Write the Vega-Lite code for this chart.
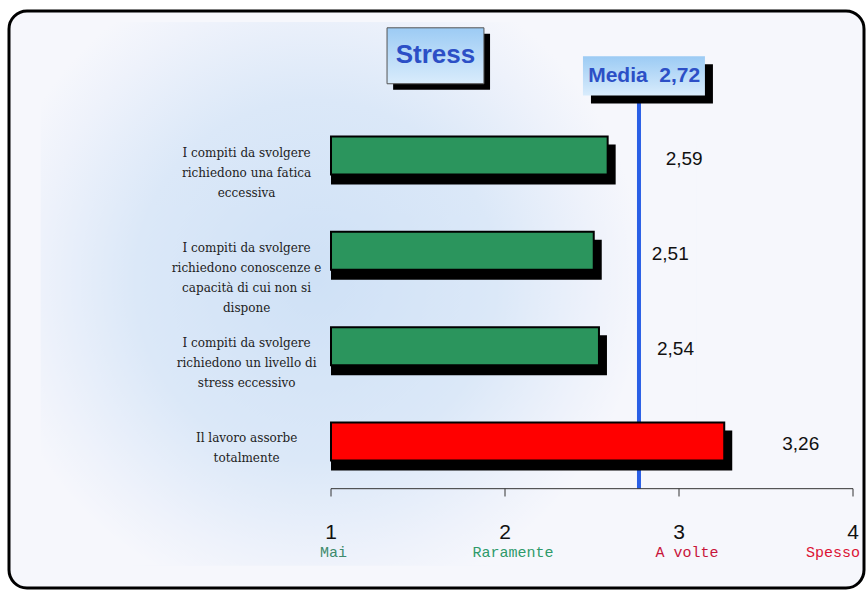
{
  "$schema": "https://vega.github.io/schema/vega-lite/v6.json",
  "width": 855,
  "height": 577,
  "autosize": {"type": "none"},
  "padding": {"left": 9, "top": 11, "right": 4, "bottom": 3},
  "background": "#ffffff",
  "config": {
    "view": {"stroke": "#000000", "strokeWidth": 3, "cornerRadius": 18, "fill": "#f6f7fc"},
    "axis": {"disable": true},
    "locale": {"number": {"decimal": ",", "thousands": ".", "grouping": [3], "currency": ["", " €"]}}
  },
  "datasets": {
    "items": [
      {"item": "I compiti da svolgere\nrichiedono una fatica\neccessiva", "row": 1, "value": 2.59, "tipo": "verde"},
      {"item": "I compiti da svolgere\nrichiedono conoscenze e\ncapacità di cui non si\ndispone", "row": 2, "value": 2.51, "tipo": "verde"},
      {"item": "I compiti da svolgere\nrichiedono un livello di\nstress eccessivo", "row": 3, "value": 2.54, "tipo": "verde"},
      {"item": "Il lavoro assorbe\ntotalmente", "row": 4, "value": 3.26, "tipo": "rosso"}
    ],
    "scale": [
      {"t": 1, "cat": "Mai"},
      {"t": 2, "cat": "Raramente"},
      {"t": 3, "cat": "A volte"},
      {"t": 4, "cat": "Spesso"}
    ],
    "one": [{}]
  },
  "layer": [
    {
      "data": {"name": "one"},
      "mark": {"type": "rect", "fill": {"gradient": "radial", "x1": 0.42, "y1": 0.48, "r1": 0, "x2": 0.42, "y2": 0.48, "r2": 0.5, "stops": [{"offset": 0, "color": "#cfe1f6"}, {"offset": 0.55, "color": "#dbe8f8"}, {"offset": 0.85, "color": "#eef2fb"}, {"offset": 1, "color": "#f6f7fc"}]}},
      "encoding": {
        "x": {"datum": -0.67, "type": "quantitative", "scale": {"domain": [-0.8506, 4.0632], "nice": false, "zero": false}, "axis": null},
        "x2": {"datum": 3.1},
        "y": {"datum": -0.4, "type": "quantitative", "scale": {"domain": [-0.4639, 5.4845], "nice": false, "zero": false, "reverse": true}, "axis": null},
        "y2": {"datum": 5.3}
      }
    },
    {
      "data": {"name": "one"},
      "mark": {"type": "rule", "color": "#2a5fe6", "strokeWidth": 4},
      "encoding": {
        "x": {"datum": 2.77},
        "y": {"datum": 0.371},
        "y2": {"datum": 4.495}
      }
    },
    {
      "data": {"name": "items"},
      "mark": {"type": "bar", "size": 40, "color": "#000000", "xOffset": 8, "yOffset": 9},
      "encoding": {
        "x": {"field": "value", "type": "quantitative"},
        "x2": {"datum": 1},
        "y": {"field": "row", "type": "quantitative"}
      }
    },
    {
      "data": {"name": "items"},
      "mark": {"type": "bar", "size": 38, "stroke": "#000000", "strokeWidth": 2},
      "encoding": {
        "x": {"field": "value", "type": "quantitative"},
        "x2": {"datum": 1},
        "y": {"field": "row", "type": "quantitative"},
        "color": {"field": "tipo", "type": "nominal", "scale": {"domain": ["verde", "rosso"], "range": ["#2b955d", "#ff0000"]}, "legend": null}
      }
    },
    {
      "data": {"name": "items"},
      "mark": {"type": "text", "font": "DejaVu Serif", "fontSize": 12, "lineBreak": "\n", "lineHeight": 20, "align": "center", "baseline": "middle", "dy": -3, "color": "#222222"},
      "encoding": {
        "x": {"datum": 0.515},
        "y": {"field": "row", "type": "quantitative"},
        "text": {"field": "item", "type": "nominal"}
      }
    },
    {
      "data": {"name": "items"},
      "mark": {"type": "text", "font": "Liberation Sans", "fontSize": 19, "align": "left", "baseline": "middle", "dx": 58, "dy": 3, "color": "#111111"},
      "encoding": {
        "x": {"field": "value", "type": "quantitative"},
        "y": {"field": "row", "type": "quantitative"},
        "text": {"field": "value", "type": "quantitative", "format": ".2f"}
      }
    },
    {
      "data": {"name": "one"},
      "mark": {"type": "rule", "color": "#333333", "strokeWidth": 1},
      "encoding": {
        "x": {"datum": 1},
        "x2": {"datum": 4},
        "y": {"datum": 4.495}
      }
    },
    {
      "data": {"name": "scale"},
      "mark": {"type": "rule", "color": "#333333", "strokeWidth": 1},
      "encoding": {
        "x": {"field": "t", "type": "quantitative"},
        "y": {"datum": 4.495},
        "y2": {"datum": 4.577}
      }
    },
    {
      "data": {"name": "scale"},
      "mark": {"type": "text", "font": "Liberation Sans", "fontSize": 21, "align": "center", "baseline": "middle", "color": "#111111"},
      "encoding": {
        "x": {"field": "t", "type": "quantitative"},
        "y": {"datum": 4.959},
        "text": {"field": "t", "type": "quantitative", "format": "d"}
      }
    },
    {
      "data": {"name": "scale"},
      "transform": [{"filter": "datum.t == 2 || datum.t == 3"}],
      "mark": {"type": "text", "font": "Liberation Mono", "fontSize": 15, "align": "center", "baseline": "middle", "dx": 8},
      "encoding": {
        "x": {"field": "t", "type": "quantitative"},
        "y": {"datum": 5.155},
        "text": {"field": "cat", "type": "nominal"},
        "fill": {"field": "cat", "type": "nominal", "scale": {"domain": ["Mai", "Raramente", "A volte", "Spesso"], "range": ["#3d8a6c", "#2e9a6a", "#c8143a", "#dc1234"]}, "legend": null}
      }
    },
    {
      "data": {"name": "scale"},
      "transform": [{"filter": "datum.t == 1"}],
      "mark": {"type": "text", "font": "Liberation Mono", "fontSize": 15, "align": "left", "baseline": "middle", "dx": -11},
      "encoding": {
        "x": {"field": "t", "type": "quantitative"},
        "y": {"datum": 5.155},
        "text": {"field": "cat", "type": "nominal"},
        "fill": {"field": "cat", "type": "nominal", "legend": null}
      }
    },
    {
      "data": {"name": "scale"},
      "transform": [{"filter": "datum.t == 4"}],
      "mark": {"type": "text", "font": "Liberation Mono", "fontSize": 15, "align": "right", "baseline": "middle", "dx": 7},
      "encoding": {
        "x": {"field": "t", "type": "quantitative"},
        "y": {"datum": 5.155},
        "text": {"field": "cat", "type": "nominal"},
        "fill": {"field": "cat", "type": "nominal", "legend": null}
      }
    },
    {
      "data": {"name": "one"},
      "mark": {"type": "rect", "color": "#000000"},
      "encoding": {
        "x": {"datum": 1.357},
        "x2": {"datum": 1.914},
        "y": {"datum": -0.278},
        "y2": {"datum": 0.309}
      }
    },
    {
      "data": {"name": "one"},
      "mark": {"type": "rect", "stroke": "#555555", "strokeWidth": 1, "fill": {"gradient": "linear", "x1": 0, "y1": 0, "x2": 0, "y2": 1, "stops": [{"offset": 0, "color": "#9ccbf4"}, {"offset": 1, "color": "#d9ecfc"}]}},
      "encoding": {
        "x": {"datum": 1.322},
        "x2": {"datum": 1.879},
        "y": {"datum": -0.34},
        "y2": {"datum": 0.247}
      }
    },
    {
      "data": {"name": "one"},
      "mark": {"type": "text", "text": "Stress", "font": "Liberation Sans", "fontWeight": "bold", "fontSize": 26, "color": "#2c4fc6", "align": "center", "baseline": "middle"},
      "encoding": {
        "x": {"datum": 1.6},
        "y": {"datum": -0.05}
      }
    },
    {
      "data": {"name": "one"},
      "mark": {"type": "rect", "color": "#000000"},
      "encoding": {
        "x": {"datum": 2.494},
        "x2": {"datum": 3.195},
        "y": {"datum": 0.041},
        "y2": {"datum": 0.453}
      }
    },
    {
      "data": {"name": "one"},
      "mark": {"type": "rect", "fill": {"gradient": "linear", "x1": 0, "y1": 0, "x2": 0, "y2": 1, "stops": [{"offset": 0, "color": "#9ccbf4"}, {"offset": 1, "color": "#d9ecfc"}]}},
      "encoding": {
        "x": {"datum": 2.448},
        "x2": {"datum": 3.149},
        "y": {"datum": -0.041},
        "y2": {"datum": 0.371}
      }
    },
    {
      "data": {"name": "one"},
      "mark": {"type": "text", "text": "Media\u00a0\u00a02,72", "font": "Liberation Sans", "fontWeight": "bold", "fontSize": 21, "color": "#2c4fc6", "align": "center", "baseline": "middle"},
      "encoding": {
        "x": {"datum": 2.8},
        "y": {"datum": 0.165}
      }
    }
  ]
}
